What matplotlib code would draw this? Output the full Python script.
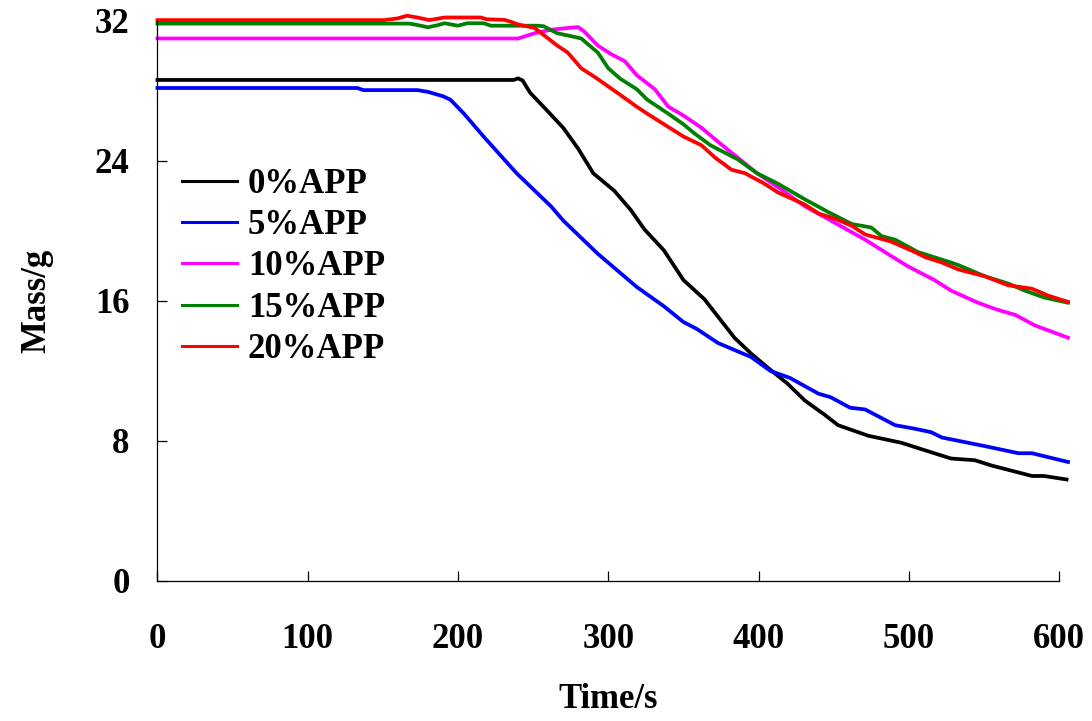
import matplotlib
matplotlib.use("Agg")
import matplotlib.pyplot as plt

plt.rcParams['font.family'] = ['Liberation Serif', 'DejaVu Serif']
plt.rcParams['font.weight'] = 'bold'

# data (time in s, mass in g)
t_0 = [0, 237, 240, 243, 248, 258, 270, 280, 290, 304, 315, 324, 337, 350, 364, 384, 395,
       406, 419, 431, 444, 453, 473, 495, 506, 528, 544, 555, 573, 582, 590, 605]
m_0 = [28.63, 28.63, 28.72, 28.6, 27.9, 27.0, 25.9, 24.7, 23.3, 22.3, 21.2, 20.1, 18.9, 17.2, 16.1, 13.9, 13.0,
       12.2, 11.3, 10.3, 9.5, 8.9, 8.3, 7.9, 7.6, 7.0, 6.9, 6.6, 6.2, 6.0, 6.0, 5.8]

t_5 = [0, 133, 137, 173, 180, 190, 195, 204, 217, 239, 262, 270, 293, 319, 337, 350, 359, 373,
       384, 395, 408, 421, 440, 448, 461, 471, 491, 504, 515, 522, 551, 562, 573, 582, 606]
m_5 = [28.17, 28.17, 28.05, 28.05, 27.95, 27.7, 27.5, 26.7, 25.4, 23.3, 21.4, 20.6, 18.7, 16.8, 15.7, 14.8, 14.4, 13.6,
       13.2, 12.8, 12.0, 11.6, 10.7, 10.5, 9.9, 9.8, 8.9, 8.7, 8.5, 8.2, 7.7, 7.5, 7.3, 7.3, 6.8]

t_10 = [0, 240, 251, 262, 273, 280, 284, 293, 302, 311, 319, 331, 340, 350, 362, 373, 386, 399,
        413, 431, 448, 471, 484, 499, 517, 528, 546, 559, 571, 584, 606]
m_10 = [31.0, 31.0, 31.3, 31.5, 31.6, 31.65, 31.4, 30.6, 30.1, 29.7, 28.9, 28.1, 27.1, 26.6, 25.9, 25.1, 24.2, 23.3,
        22.5, 21.4, 20.6, 19.5, 18.8, 18.0, 17.2, 16.6, 15.9, 15.5, 15.2, 14.6, 13.9]

t_15 = [0, 168, 174, 180, 186, 191, 200, 206, 217, 222, 253, 257, 266, 277, 282, 293, 300, 308,
        319, 326, 340, 350, 357, 368, 386, 399, 413, 431, 446, 462, 475, 482, 491, 506, 528, 533,
        551, 566, 577, 590, 606]
m_15 = [31.85, 31.85, 31.75, 31.64, 31.75, 31.87, 31.73, 31.87, 31.87, 31.73, 31.73, 31.7, 31.3, 31.1, 31.0, 30.2, 29.3, 28.7,
        28.1, 27.5, 26.7, 26.1, 25.6, 24.9, 24.1, 23.3, 22.7, 21.8, 21.1, 20.4, 20.2, 19.7, 19.5, 18.8, 18.2, 18.05,
        17.4, 17.0, 16.6, 16.2, 15.9]

t_20 = [0, 151, 160, 166, 173, 181, 191, 215, 219, 231, 235, 240, 251, 257, 266, 273, 282, 291,
        306, 319, 326, 350, 362, 371, 382, 391, 404, 413, 431, 440, 451, 462, 471, 488, 504, 511,
        522, 533, 551, 566, 582, 593, 606]
m_20 = [32.05, 32.05, 32.15, 32.3, 32.2, 32.05, 32.2, 32.2, 32.1, 32.06, 31.96, 31.8, 31.6, 31.2, 30.6, 30.2, 29.3, 28.8,
        27.9, 27.1, 26.7, 25.4, 24.9, 24.2, 23.5, 23.3, 22.7, 22.2, 21.5, 21.0, 20.7, 20.3, 19.8, 19.4, 18.8, 18.5,
        18.2, 17.8, 17.4, 16.9, 16.7, 16.3, 15.95]

labels = ["0%APP", "5%APP", "10%APP", "15%APP", "20%APP"]
colors = ["#000000", "#0000FF", "#FF00FF", "#008000", "#FF0000"]
x_ticks = [0, 100, 200, 300, 400, 500, 600]
y_ticks = [0, 8, 16, 24, 32]

fig = plt.figure(figsize=(10.92, 7.21), dpi=100)
ax = fig.add_axes([0.1442, 0.1942, 0.8256, 0.7767])

series = [(t_0, m_0), (t_5, m_5), (t_10, m_10), (t_15, m_15), (t_20, m_20)]
for (t, m), lab, c in zip(series, labels, colors):
    ax.plot(t, m, color=c, lw=2.7, label=lab, clip_on=False, solid_joinstyle='round')

ax.set_xlim(0, 600)
ax.set_ylim(0, 32)
ax.set_xticks(x_ticks)
ax.set_yticks(y_ticks)
ax.spines['top'].set_visible(False)
ax.spines['right'].set_visible(False)
for s in ['left', 'bottom']:
    ax.spines[s].set_linewidth(0.9)
ax.tick_params(axis='both', direction='in', length=7, width=0.9, labelsize=25)
ax.tick_params(axis='x', pad=30)
ax.tick_params(axis='y', pad=20)
for lbl in ax.get_xticklabels() + ax.get_yticklabels():
    lbl.set_fontweight('bold')

ax.set_xlabel("Time/s", fontsize=25, fontweight='bold', labelpad=20)
ax.set_ylabel("Mass/g", fontsize=25, fontweight='bold', labelpad=30)

leg = ax.legend(loc='upper left', bbox_to_anchor=(0.027, 0.738), frameon=False,
                prop={'size': 25, 'weight': 'bold'}, handlelength=1.6, handletextpad=0.3,
                labelspacing=0.24, borderpad=0, borderaxespad=0)
for h in leg.get_lines():
    h.set_linewidth(2.2)

fig.savefig("out.png", dpi=100)
